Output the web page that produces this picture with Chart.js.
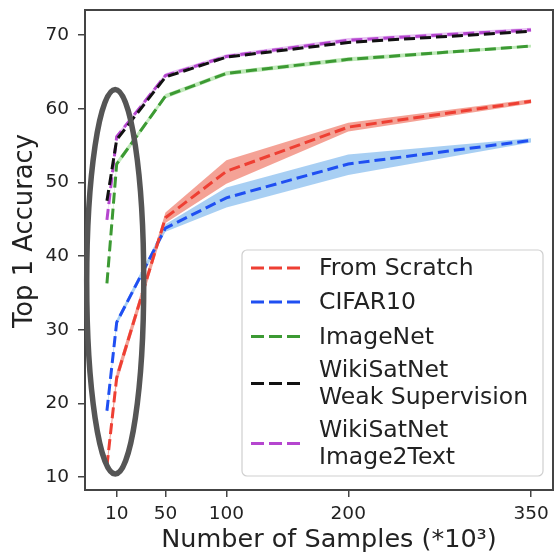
<!DOCTYPE html>
<html><head><meta charset="utf-8">
<script src="https://cdn.jsdelivr.net/npm/chart.js@4.4.0/dist/chart.umd.min.js"></script>
<style>html,body{margin:0;padding:0;background:#fff}#wrap{width:558px;height:557px}</style>
</head><body><div id="wrap"><canvas id="c" width="558" height="557"></canvas></div>
<script>
// ---- data ----
const samples = [2, 10, 50, 100, 200, 350];
const xTicks = [10, 50, 100, 200, 350];
const yTicks = [10, 20, 30, 40, 50, 60, 70];
const xTitle = 'Number of Samples (*10³)';
const yTitle = 'Top 1 Accuracy';
const seriesNames = ['From Scratch', 'CIFAR10', 'ImageNet', 'WikiSatNet\nWeak Supervision', 'WikiSatNet\nImage2Text'];
const scratch   = [11.5, 23.5, 45.2, 51.5, 57.5, 61.0];
const scratchLo = [10.9, 22.7, 44.5, 49.8, 56.9, 60.7];
const scratchHi = [12.1, 24.3, 45.9, 53.0, 58.1, 61.3];
const cifar     = [19.0, 31.0, 43.8, 47.9, 52.5, 55.7];
const cifarLo   = [18.6, 30.6, 43.3, 46.6, 51.0, 55.4];
const cifarHi   = [19.4, 31.4, 44.3, 49.3, 53.8, 56.0];
const imagenet  = [36.3, 52.5, 61.7, 64.8, 66.7, 68.5];
const imagenetLo= [36.0, 52.1, 61.4, 64.5, 66.4, 68.3];
const imagenetHi= [36.6, 52.9, 62.0, 65.1, 67.0, 68.7];
const weak      = [47.5, 55.8, 64.3, 67.0, 69.0, 70.5];
const img2text  = [44.9, 56.2, 64.5, 67.1, 69.3, 70.7];
const img2textLo= [44.6, 55.9, 64.2, 66.8, 69.0, 70.4];
const img2textHi= [45.2, 56.5, 64.8, 67.4, 69.6, 71.0];
// highlight ellipse, in data units: [centerX, centerY, radiusX, radiusY]
const highlight = [8.8, 36.5, 23.4, 26.1];

const colors = ['#ee3f33', '#1f4ff2', '#3c9a33', '#111111', '#b546cf'];
const pts = arr => arr.map((v, i) => ({x: samples[i], y: v}));
const DASH = [11, 5];

function line(label, arr, color) {
  return {label, data: pts(arr), borderColor: color, borderWidth: 3, borderDash: DASH,
          pointRadius: 0, fill: false, tension: 0, isMain: true};
}
function band(arr, fillTarget, bg) {
  return {label: '', data: pts(arr), borderWidth: 0, borderColor: 'rgba(0,0,0,0)', pointRadius: 0,
          backgroundColor: bg, fill: fillTarget === null ? false : {target: fillTarget}, tension: 0};
}

const datasets = [
  line(seriesNames[0], scratch, colors[0]),
  line(seriesNames[1], cifar, colors[1]),
  line(seriesNames[2], imagenet, colors[2]),
  line(seriesNames[3], weak, colors[3]),
  line(seriesNames[4], img2text, colors[4]),
  band(scratchLo, null, 'rgba(0,0,0,0)'),
  band(scratchHi, 5, 'rgba(236,100,80,0.6)'),
  band(cifarLo, null, 'rgba(0,0,0,0)'),
  band(cifarHi, 7, 'rgba(110,175,235,0.6)'),
  band(imagenetLo, null, 'rgba(0,0,0,0)'),
  band(imagenetHi, 9, 'rgba(140,215,130,0.55)'),
  band(img2textLo, null, 'rgba(0,0,0,0)'),
  band(img2textHi, 11, 'rgba(215,150,235,0.55)')
];

function zeroPad(s) { s.paddingTop = 0; s.paddingBottom = 0; s.paddingLeft = 0; s.paddingRight = 0; }

const frameAndExtras = {
  id: 'frameAndExtras',
  afterDatasetsDraw(chart) {
    const {ctx, chartArea: a, scales: {x, y}} = chart;
    ctx.save();
    ctx.strokeStyle = '#444';
    ctx.lineWidth = 2;
    ctx.strokeRect(a.left, a.top, a.right - a.left, a.bottom - a.top);
    const cx = x.getPixelForValue(highlight[0]);
    const cy = y.getPixelForValue(highlight[1]);
    const rx = Math.abs(x.getPixelForValue(highlight[0] + highlight[2]) - cx);
    const ry = Math.abs(y.getPixelForValue(highlight[1] + highlight[3]) - cy);
    ctx.beginPath();
    ctx.ellipse(cx, cy, rx, ry, 0, 0, Math.PI * 2);
    ctx.strokeStyle = '#555';
    ctx.lineWidth = 5.5;
    ctx.stroke();
    ctx.restore();
  },
  afterDraw(chart) {
    const {ctx} = chart;
    ctx.save();
    ctx.fillStyle = '#222';
    ctx.textAlign = 'center';
    ctx.textBaseline = 'middle';
    ctx.font = '25.5px "DejaVu Sans"';
    ctx.fillText(xTitle, 329, 540);
    ctx.save();
    ctx.translate(25, 231);
    ctx.rotate(-Math.PI / 2);
    ctx.font = '25.8px "DejaVu Sans"';
    ctx.fillText(yTitle, 0, 0);
    ctx.restore();
    const bx = 242, by = 250, bw = 301, bh = 226, r = 5;
    ctx.beginPath();
    ctx.roundRect(bx, by, bw, bh, r);
    ctx.fillStyle = 'rgba(255,255,255,0.85)';
    ctx.fill();
    ctx.strokeStyle = '#cfcfcf';
    ctx.lineWidth = 1.2;
    ctx.stroke();
    const rows = [268, 302, 336.5, 383.5, 443.5];
    const lh = 26.5;
    ctx.font = '23.5px "DejaVu Sans"';
    ctx.textBaseline = 'middle';
    ctx.textAlign = 'left';
    const mains = chart.data.datasets.filter(d => d.isMain);
    mains.forEach((d, i) => {
      const yc = rows[i];
      ctx.strokeStyle = d.borderColor;
      ctx.lineWidth = 3;
      ctx.setLineDash([13, 5]);
      ctx.beginPath();
      ctx.moveTo(251, yc);
      ctx.lineTo(300, yc);
      ctx.stroke();
      ctx.setLineDash([]);
      const linesTxt = d.label.split('\n');
      ctx.fillStyle = '#222';
      linesTxt.forEach((t, k) => {
        const ty = yc + (k - (linesTxt.length - 1) / 2) * lh;
        ctx.fillText(t, 319, ty + 1);
      });
    });
    ctx.restore();
  }
};

new Chart(document.getElementById('c'), {
  type: 'line',
  data: {datasets},
  plugins: [frameAndExtras],
  options: {
    responsive: false,
    animation: false,
    layout: {autoPadding: false, padding: {top: 10, right: 5, left: 0, bottom: 0}},
    plugins: {legend: {display: false}, tooltip: {enabled: false}},
    scales: {
      x: {
        type: 'linear', min: -16, max: 368,
        afterBuildTicks: s => { s.ticks = xTicks.map(v => ({value: v})); },
        afterFit: s => { s.height = 67; zeroPad(s); },
        grid: {drawOnChartArea: false, drawTicks: true, tickLength: 7, color: '#444', lineWidth: 1.5},
        border: {display: true, color: '#444', width: 2},
        ticks: {color: '#222', font: {family: 'DejaVu Sans', size: 18.5}, padding: 6, maxRotation: 0, autoSkip: false},
        title: {display: false}
      },
      y: {
        type: 'linear', min: 8.24, max: 73.4,
        afterBuildTicks: s => { s.ticks = yTicks.map(v => ({value: v})); },
        afterFit: s => { s.width = 85; zeroPad(s); },
        grid: {drawOnChartArea: false, drawTicks: true, tickLength: 7, color: '#444', lineWidth: 1.5},
        border: {display: true, color: '#444', width: 2},
        ticks: {color: '#222', font: {family: 'DejaVu Sans', size: 18.5}, padding: 9},
        title: {display: false}
      }
    }
  }
});
</script></body></html>
